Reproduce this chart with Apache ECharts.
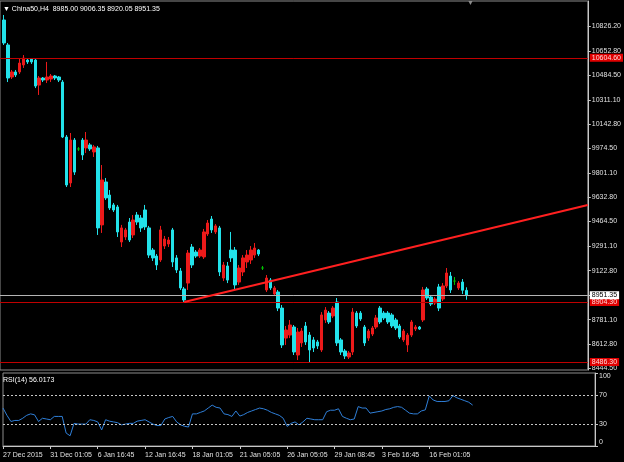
<!DOCTYPE html>
<html><head><meta charset="utf-8">
<script src="https://cdn.jsdelivr.net/npm/echarts@6/dist/echarts.min.js"></script>
<style>html,body{margin:0;padding:0;background:#000}#c{width:624px;height:462px}</style>
</head><body><div id="c"></div><script>
// ---- data (H4 bars, index 0 = first slot at left edge) ----
const dateLabels = ['27 Dec 2015','31 Dec 01:05','6 Jan 16:45','12 Jan 16:45','18 Jan 01:05','21 Jan 05:05','26 Jan 05:05','29 Jan 08:45','3 Feb 16:45','16 Feb 01:05'];
const barsPerLabel = 12;
const slotCount = 151;

const open = [null,
 10868,10694,10471,10506,10506,10555,10589,10596,10589,10415,
 10464,10450,10457,10478,10471,10436,10053,9733,10032,9970,
 10032,9977,9998,9949,9977,9441,9740,9649,9580,9566,
 9322,9357,9461,9371,9510,9489,9545,9420,9266,9224,
 9197,9294,9308,9406,9211,9120,8995,9036,9287,9252,
 9224,9218,9378,9482,9392,9420,9071,9155,9266,9266,
 9043,9113,9183,9197,9231,9266,9141,8988,9057,8960,
 8974,8862,8653,8674,8730,8535,8619,8737,8674,8640,
 8626,8570,8779,8827,8807,8904,8640,8563,8521,8556,
 8827,8827,8730,8653,8681,8730,8862,8827,8827,8814,
 8779,8737,8640,8605,8674,8716,8730,8779,8995,8939,
 8897,9009,8925,9016,9085,9050,9002,9043,8985.00];
const close = [null,
 10708,10464,10506,10485,10568,10603,10576,10576,10408,10464,
 10450,10471,10478,10464,10450,10053,9719,10032,9809,9970,
 9928,10032,9970,9984,9420,9754,9629,9559,9545,9392,
 9420,9406,9336,9475,9461,9420,9427,9231,9211,9162,
 9406,9343,9336,9183,9127,9002,8918,9245,9162,9224,
 9266,9392,9454,9406,9434,9113,9162,9057,9211,9023,
 9141,9211,9231,9266,9280,9238,9141,9071,9002,9002,
 8862,8605,8709,8744,8556,8695,8702,8626,8570,8584,
 8598,8814,8848,8765,8862,8619,8556,8528,8549,8834,
 8737,8786,8619,8702,8723,8793,8765,8793,8765,8737,
 8723,8660,8702,8674,8765,8730,8716,8988,8932,8890,
 8925,8862,9016,9106,8988,9050,9036,8986,8951.35];
const low = [null,
 10694,10436,10457,10471,10492,10534,10562,10562,10394,10346,
 10436,10429,10436,10450,10436,10046,9705,9705,9789,9956,
 9893,9942,9956,9914,9371,9385,9615,9545,9531,9357,
 9287,9336,9322,9350,9441,9392,9406,9211,9190,9127,
 9183,9273,9287,9148,9106,8988,8904.3,8988,9141,9211,
 9211,9204,9364,9385,9378,9085,9050,9036,9183,8988,
 9023,9085,9141,9169,9211,9224,9127,8974,8988,8946,
 8841,8584,8605,8653,8535,8500,8591,8605,8486,8556,
 8577,8556,8758,8751,8793,8598,8535,8507,8507,8535,
 8723,8772,8598,8633,8667,8716,8751,8779,8751,8723,
 8709,8647,8626,8556,8660,8702,8709,8765,8918,8876,
 8883,8841,8911,9002,8967,9023,8988,8960,8920.05];
const high = [null,
 10903,10708,10520,10520,10603,10624,10603,10603,10603,10478,
 10471,10576,10492,10485,10478,10450,10067,10081,10046,9983,
 10046,10088,10011,9998,9991,9858,9768,9684,9594,9580,
 9441,9420,9489,9510,9531,9510,9580,9434,9280,9238,
 9434,9364,9357,9420,9231,9141,9009,9266,9308,9266,
 9280,9413,9475,9503,9447,9434,9183,9183,9392,9287,
 9162,9231,9266,9294,9315,9273,9155,9092,9071,9016,
 8988,8883,8737,8779,8744,8723,8723,8765,8695,8660,
 8640,8834,8869,8841,8876,8932,8653,8577,8563,8862,
 8841,8841,8744,8716,8737,8814,8876,8841,8841,8827,
 8793,8751,8716,8688,8779,8744,8737,9009,9009,8953,
 8939,9030,9036,9141,9113,9078,9050,9064,9006.35];
const rsi = [
 52,42,33.6,35,35,38,42,44,42.7,33.6,
 38,37,36,40.5,40.5,40.5,17.7,14,31,30,
 30,30,36,35,33,22,36,34,33,32,
 29,30,31,31,34,35,36,33,30,28,
 28,37,39,40.5,33,29,27,26,44,44,
 46,48,52,56,53,52,44,43,40.5,48,
 41,43,46,48,50,52,51,49,46,44,
 42,38,26.8,31,33,29,33,38,37,36,
 36,36,47,49,49,51,40.5,38,36,37,
 54,52,52,45,46,47,48,50,51,53,
 54,53,49,45,44,44,48,49.5,68.6,63,
 61,61,61,62,69,66,64,62,60,56.0173];

const priceTicks = [10826.2,10652.8,10484.5,10311.1,10142.8,9974.5,9801.1,9632.8,9464.5,9291.1,9122.8,8949.4,8781.1,8612.8,8444.5];
const rsiTicks = [0,30,70,100];
const rsiLevels = [70,30];
const redLevels = [10604.6, 8904.3, 8486.3];
const bidPrice = 8951.35;
const trendline = [[47, 8904.3],[150, 9580]];
const headerText = '▼ China50,H4  8985.00 9006.35 8920.05 8951.35';
const rsiText = 'RSI(14) 56.0173';

// ---- build ----
const FONT = 'Liberation Sans';
const isLabelIdx = i => i % barsPerLabel === 0 && i / barsPerLabel < dateLabels.length;
const categories = Array.from({length: slotCount}, (_, i) => isLabelIdx(i) ? dateLabels[i / barsPerLabel] : 'b' + i);
const candles = open.map((o, i) => o == null ? '-' : [o, close[i], low[i], high[i]]);

const UP = '#ec1a1a', DOWN = '#22e2ea', DOJI = '#00c000';
const AXC = '#c8c8c8', TXT = '#e0e0e0';

const hLines = redLevels.map(v => ({
  yAxis: v,
  lineStyle: {color: '#c00000', width: 1, type: 'solid'},
  label: {show: true, position: 'end', distance: 2, formatter: v.toFixed(2), color: '#ffd8d8',
          backgroundColor: '#e00000', padding: [1, 2, 0, 2], fontSize: 7, fontFamily: FONT}
}));
hLines.push({
  yAxis: bidPrice,
  lineStyle: {color: '#b4b4b4', width: 1, type: 'solid'},
  label: {show: true, position: 'end', distance: 2, formatter: bidPrice.toFixed(2), color: '#000',
          backgroundColor: '#ffffff', padding: [1, 2, 0, 2], fontSize: 7, fontFamily: FONT}
});
hLines.push([
  {coord: [categories[trendline[0][0]], trendline[0][1]]},
  {coord: [categories[trendline[1][0]], trendline[1][1]]}
]);

const chart = echarts.init(document.getElementById('c'), null, {renderer: 'canvas'});
chart.setOption({
  animation: false,
  backgroundColor: '#000',
  textStyle: {fontFamily: FONT},
  title: [
    {text: headerText, left: 3, top: 6, padding: 0,
     textStyle: {color: '#ffffff', fontSize: 7, fontWeight: 'normal', fontFamily: FONT}},
    {text: rsiText, left: 3, top: 377, padding: 0,
     textStyle: {color: '#ffffff', fontSize: 7, fontWeight: 'normal', fontFamily: FONT}}
  ],
  graphic: [
    {type: 'text', left: 467, top: 0, style: {text: '▼', fill: '#8c8c8c', fontSize: 7}}
  ],
  grid: [
    {left: 0, top: 1, width: 595, height: 369, show: true, borderColor: '#8c8c8c', borderWidth: 1, containLabel: false},
    {left: 0, top: 373, width: 595, height: 73, show: true, borderColor: '#8c8c8c', borderWidth: 1, containLabel: false}
  ],
  xAxis: [
    {type: 'category', gridIndex: 0, data: categories, boundaryGap: false, show: false},
    {type: 'category', gridIndex: 1, data: categories, boundaryGap: false,
     axisLine: {show: true, lineStyle: {color: AXC}},
     axisTick: {show: true, interval: (i) => isLabelIdx(i), length: 3, lineStyle: {color: AXC}},
     axisLabel: {interval: (i) => isLabelIdx(i), align: 'left', color: TXT, fontSize: 7, fontFamily: FONT, margin: 6},
     splitLine: {show: false}}
  ],
  yAxis: [
    {type: 'value', gridIndex: 0, position: 'right', min: 8430.6, max: 11000.3,
     splitLine: {show: false},
     axisLine: {show: true, lineStyle: {color: AXC}},
     axisTick: {show: true, customValues: priceTicks, length: 3, lineStyle: {color: AXC}},
     axisLabel: {customValues: priceTicks, formatter: v => v.toFixed(2), color: TXT, fontSize: 7, fontFamily: FONT, margin: 4}},
    {type: 'value', gridIndex: 1, position: 'right', min: 0, max: 100,
     splitLine: {show: false},
     axisLine: {show: true, lineStyle: {color: AXC}},
     axisTick: {show: true, customValues: rsiTicks, length: 3, lineStyle: {color: AXC}},
     axisLabel: {customValues: rsiTicks, formatter: v => String(v), color: TXT, fontSize: 7, fontFamily: FONT, margin: 4,
                 verticalAlignMaxLabel: 'top', verticalAlignMinLabel: 'bottom'}}
  ],
  series: [
    {type: 'candlestick', xAxisIndex: 0, yAxisIndex: 0, data: candles, barWidth: 3,
     itemStyle: {color: UP, color0: DOWN, borderColor: UP, borderColor0: DOWN, borderColorDoji: DOJI, borderWidth: 1},
     markLine: {silent: true, symbol: 'none', animation: false, data: hLines,
                lineStyle: {color: '#ff2020', width: 2, type: 'solid'}, label: {show: false}}},
    {type: 'line', xAxisIndex: 1, yAxisIndex: 1, data: rsi, showSymbol: false, symbol: 'none',
     lineStyle: {color: '#2f7fd8', width: 1},
     markLine: {silent: true, symbol: 'none', animation: false,
                data: rsiLevels.map(v => ({yAxis: v})),
                lineStyle: {color: '#c8c8c8', width: 1, type: [2, 2]}, label: {show: false}}}
  ]
});
</script></body></html>
